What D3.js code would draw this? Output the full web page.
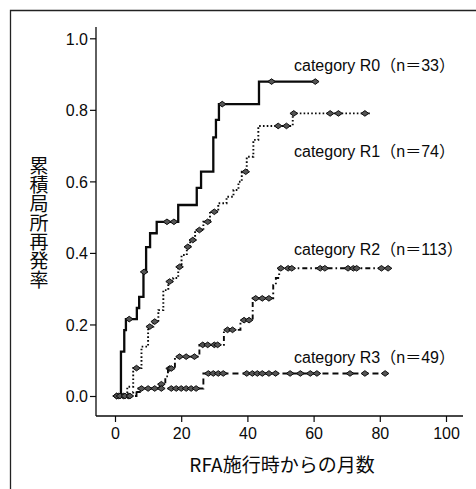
<!DOCTYPE html>
<html><head><meta charset="utf-8">
<script src="https://cdn.jsdelivr.net/npm/d3@7/dist/d3.min.js"></script>
<style>
html,body{margin:0;padding:0;background:#fff;}
svg{display:block;}
</style></head>
<body>
<script>
// ---- data ----
const xTicks = [0, 20, 40, 60, 80, 100];
const yTicks = [0.0, 0.2, 0.4, 0.6, 0.8, 1.0];
const seriesNames = ["category R0（n＝33）", "category R1（n＝74）", "category R2（n＝113）", "category R3（n＝49）"];

const r0Times = [0, 1.8, 2.8, 3.3, 6.6, 7.3, 8.6, 9.4, 10.6, 12.6, 19.1, 24.7, 26.0, 29.7, 30.5, 31.4, 43.5, 61];
const r0Probs = [0, 0.124, 0.184, 0.215, 0.246, 0.277, 0.347, 0.416, 0.455, 0.487, 0.534, 0.582, 0.627, 0.723, 0.772, 0.816, 0.879, 0.879];
const r0Censor = [0.5, 4.3, 8.8, 15.7, 17.8, 32.4, 47.3, 60.5];

const r1Times = [0, 3.7, 5.5, 8.0, 10.0, 11.6, 13.1, 14.6, 16.1, 17.6, 19.1, 20.1, 21.7, 22.7, 24.2, 26.7, 28.7, 31.2, 33.7, 35.8, 37.3, 38.3, 39.8, 41.8, 43.3, 53.7, 77];
const r1Probs = [0, 0.026, 0.078, 0.138, 0.194, 0.208, 0.240, 0.296, 0.320, 0.330, 0.361, 0.394, 0.417, 0.436, 0.464, 0.487, 0.515, 0.539, 0.557, 0.576, 0.599, 0.627, 0.669, 0.716, 0.755, 0.790, 0.790];
const r1Censor = [6.5, 10.5, 12.0, 16.5, 19.5, 22.0, 23.5, 25.5, 28.0, 30.0, 39.5, 49.3, 51.8, 54.0, 65.0, 67.5, 75.5];

const r2Times = [0, 5.5, 7.5, 13.5, 15.2, 16.0, 18.1, 25.5, 32.9, 37.9, 41.6, 47.8, 48.6, 49.6, 83];
const r2Probs = [0, 0.011, 0.022, 0.033, 0.055, 0.077, 0.110, 0.143, 0.185, 0.212, 0.273, 0.310, 0.330, 0.357, 0.357];
const r2Censor = [1.0, 2.5, 4.0, 14.0, 16.5, 17.0, 19.5, 21.5, 24.0, 26.5, 28.0, 30.0, 31.0, 34.0, 35.5, 39.0, 40.5, 42.5, 44.5, 46.5, 50.1, 52.3, 53.4, 62.0, 63.4, 70.4, 72.0, 73.0, 80.5, 82.5];

const r3Times = [0, 6.5, 26.7, 81.6];
const r3Probs = [0, 0.021, 0.063, 0.063];
const r3Censor = [0.5, 1.5, 3.0, 4.5, 8.0, 10.0, 12.0, 14.0, 17.0, 18.5, 20.0, 21.5, 23.0, 24.5, 28.2, 29.7, 31.2, 32.7, 39.8, 41.5, 43.0, 44.5, 46.5, 48.5, 52.9, 56.0, 59.0, 61.0, 71.0, 75.5, 81.6];

// ---- layout ----
const W = 476, H = 489;
const svg = d3.select("body").append("svg").attr("width", W).attr("height", H);
const x = d3.scaleLinear().domain([0, 100]).range([115, 446]);
const y = d3.scaleLinear().domain([0, 1]).range([396, 38.3]);
const ink = "#0a0a0a";
const fontLatin = "'Liberation Sans', Arial, 'Noto Sans CJK JP', sans-serif";
const fontCJK = "'Noto Sans CJK JP', 'Liberation Sans', sans-serif";

// frame
svg.append("path").attr("d", "M10.5,489 V10.5 H476").attr("fill", "none").attr("stroke", "#222").attr("stroke-width", 1.3);

// axes
const gy = svg.append("g").attr("transform", "translate(96,0)")
  .call(d3.axisLeft(y).tickValues(yTicks).tickFormat(d3.format(".1f")).tickSize(6).tickSizeOuter(0));
const gx = svg.append("g").attr("transform", "translate(0,416)")
  .call(d3.axisBottom(x).tickValues(xTicks).tickSize(6).tickSizeOuter(0));
[gy, gx].forEach(g => {
  g.select(".domain").remove();
  g.selectAll("line").attr("stroke", ink).attr("stroke-width", 1.2);
  g.selectAll("text").attr("fill", ink).style("font-family", fontLatin).style("font-size", "16px");
});
gy.selectAll("text").attr("x", -8).attr("dy", "0.36em");
gx.selectAll("text").attr("y", 11).attr("dy", "0.72em");
svg.append("line").attr("x1", 96).attr("x2", 96).attr("y1", 27).attr("y2", 416).attr("stroke", ink).attr("stroke-width", 1.3);
svg.append("line").attr("x1", 96).attr("x2", 463).attr("y1", 416).attr("y2", 416).attr("stroke", ink).attr("stroke-width", 1.3);

// axis titles
svg.append("text").attr("x", 282).attr("y", 472).attr("text-anchor", "middle")
  .style("font-family", fontCJK).style("font-size", "19px").attr("fill", ink)
  .text("RFA施行時からの月数");
svg.append("text").attr("x", 39).attr("y", 156)
  .style("writing-mode", "vertical-rl").style("text-orientation", "upright")
  .style("font-family", fontCJK).style("font-size", "19px").attr("fill", ink)
  .text("累積局所再発率");

// series
const series = [
  {t: r0Times, p: r0Probs, c: r0Censor, dash: null, w: 2.3},
  {t: r1Times, p: r1Probs, c: r1Censor, dash: "1.6,2.2", w: 1.9},
  {t: r2Times, p: r2Probs, c: r2Censor, dash: "5,3,1.6,3", w: 1.9},
  {t: r3Times, p: r3Probs, c: r3Censor, dash: "6,4", w: 1.9}
];
const line = d3.line().x(d => x(d[0])).y(d => y(d[1])).curve(d3.curveStepAfter);
function probAt(s, m) {
  let v = 0;
  for (let i = 0; i < s.t.length; i++) if (s.t[i] <= m) v = s.p[i];
  return v;
}
series.forEach(s => {
  const pts = s.t.map((t, i) => [t, s.p[i]]);
  svg.append("path").attr("d", line(pts)).attr("fill", "none").attr("stroke", ink)
    .attr("stroke-width", s.w).attr("stroke-dasharray", s.dash);
  svg.append("g").selectAll("path").data(s.c).join("path")
    .attr("transform", d => `translate(${x(d)},${y(probAt(s, d))})`)
    .attr("d", "M-3.8,0 L0,-2.8 L3.8,0 L0,2.8 Z")
    .attr("fill", "#555").attr("stroke", ink).attr("stroke-width", 1);
});

// series labels
const labelY = [71, 157, 255, 363];
seriesNames.forEach((n, i) => {
  svg.append("text").attr("x", 294).attr("y", labelY[i])
    .style("font-family", fontLatin).style("font-size", "16px").attr("fill", ink).text(n);
});
</script>
</body></html>
